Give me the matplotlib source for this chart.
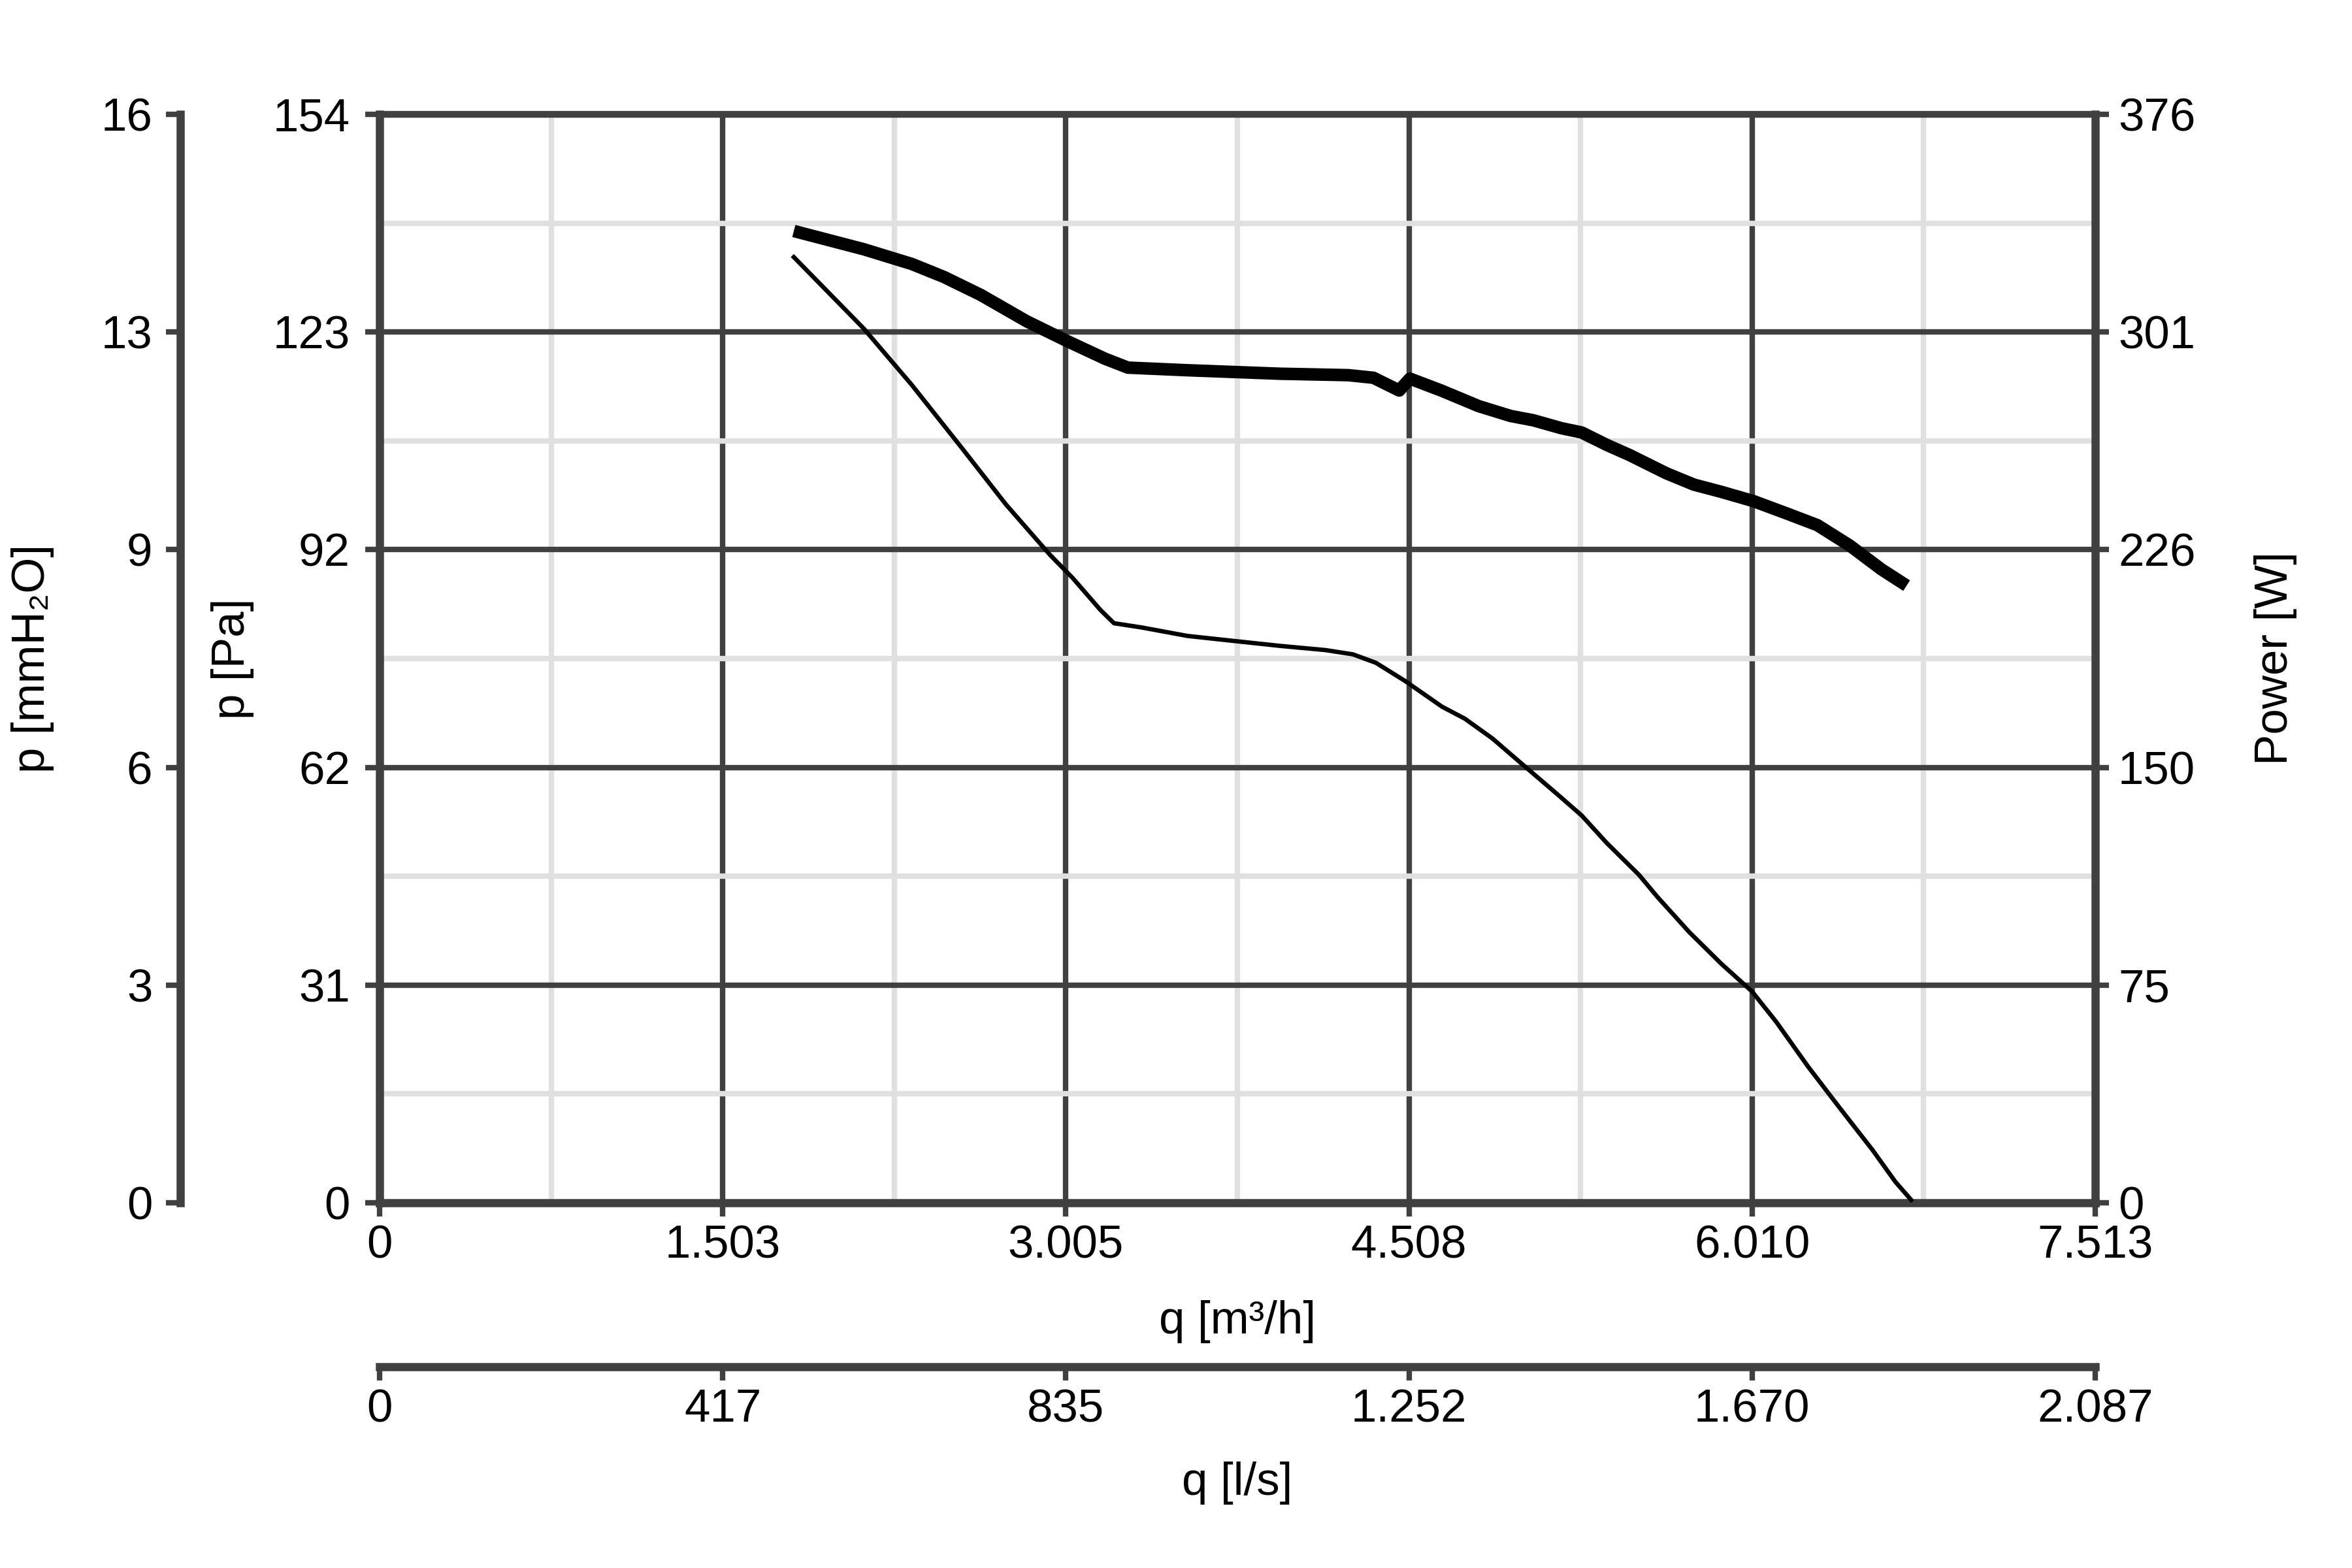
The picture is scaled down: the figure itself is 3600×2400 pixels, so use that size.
import numpy as np
import matplotlib
matplotlib.use("Agg")
import matplotlib.pyplot as plt

plt.rcParams['font.family'] = ['Liberation Sans', 'DejaVu Sans']

# axis ranges and tick labels
q_max = 7513          # m3/h
p_max = 154           # Pa
w_max = 376           # W
q_labels = ['0', '1.503', '3.005', '4.508', '6.010', '7.513']
ls_labels = ['0', '417', '835', '1.252', '1.670', '2.087']
pa_labels = ['0', '31', '62', '92', '123', '154']
mm_labels = ['0', '3', '6', '9', '13', '16']
w_labels = ['0', '75', '150', '226', '301', '376']

# pressure curve (thin)
q_p = [1814, 2120, 2331, 2552, 2743, 2935, 3035, 3156, 3216, 3337, 3538, 3739,
       3941, 4142, 4262, 4363, 4492, 4652, 4752, 4873, 5013, 5154, 5264, 5374,
       5515, 5595, 5735, 5876, 6010, 6116, 6257, 6397, 6537, 6637, 6707]
p_pa = [133.8, 123.7, 115.7, 106.7, 98.8, 91.7, 88.4, 83.9, 82.0, 81.4, 80.2, 79.5,
        78.8, 78.2, 77.6, 76.4, 73.8, 70.2, 68.5, 65.7, 61.8, 57.9, 54.8, 50.9,
        46.4, 43.3, 38.3, 33.8, 29.9, 25.6, 19.2, 13.3, 7.5, 3.0, 0.4]

# power curve (thick)
q_w = [1814, 2120, 2331, 2472, 2633, 2834, 3005, 3176, 3277, 3538, 3941, 4242,
       4352, 4465, 4512, 4652, 4813, 4953, 5053, 5174, 5264, 5374, 5474, 5635,
       5755, 5875, 6016, 6156, 6296, 6437, 6577, 6687]
p_w = [335.7, 329.4, 324.3, 319.8, 313.6, 304.5, 297.9, 291.6, 288.5, 287.6, 286.4, 285.9,
       285.0, 280.6, 284.7, 280.5, 275.2, 271.8, 270.3, 267.6, 266.1, 261.8, 258.3, 252.0,
       248.1, 245.6, 242.4, 238.3, 234.1, 227.1, 218.8, 213.2]

dark = '#404040'
light = '#e0e0e0'
fs = 17

fig = plt.figure(figsize=(12, 8), dpi=300)
ax = fig.add_axes([581/3600, 1 - 1841/2400, 2626/3600, 1666/2400])

ax.set_xlim(0, q_max)
ax.set_ylim(0, p_max)
xt = np.linspace(0, q_max, 6)
yt = np.linspace(0, p_max, 6)
ax.set_xticks(xt, q_labels)
ax.set_yticks(yt, pa_labels)
ax.set_xticks((xt[:-1] + xt[1:]) / 2, minor=True)
ax.set_yticks((yt[:-1] + yt[1:]) / 2, minor=True)
ax.grid(which='minor', color=light, lw=2, zorder=0)
ax.grid(which='major', color=dark, lw=2, zorder=1)
ax.set_axisbelow(True)
ax.tick_params(which='minor', length=0)
ax.tick_params(axis='y', length=5.3, width=2, pad=5.5, labelsize=fs, color=dark)
ax.tick_params(axis='x', length=5, width=2, pad=3, labelsize=fs, color=dark)
for s in ['left', 'bottom']:
    ax.spines[s].set_color(dark)
    ax.spines[s].set_linewidth(3)
ax.spines['top'].set_color(dark)
ax.spines['top'].set_linewidth(2.5)
ax.spines['right'].set_visible(False)

ax.plot(q_p, p_pa, color='black', lw=1.6, zorder=3)

ax.set_xlabel('q [m³/h]', fontsize=fs, va='center')
ax.xaxis.set_label_coords(0.5, -0.109)
ax.set_ylabel('p [Pa]', fontsize=fs, va='center')
ax.yaxis.set_label_coords(-0.0857, 0.5)

# power axis on the right
ax_w = ax.twinx()
ax_w.set_ylim(0, w_max)
ax_w.set_yticks(np.linspace(0, w_max, 6), w_labels)
ax_w.tick_params(axis='y', length=5, width=2, pad=3.4, labelsize=fs, color=dark)
for s in ['left', 'top', 'bottom']:
    ax_w.spines[s].set_visible(False)
ax_w.spines['right'].set_color(dark)
ax_w.spines['right'].set_linewidth(3)
ax_w.plot(q_w, p_w, color='black', lw=4.6, solid_capstyle='butt', zorder=3)
ax_w.set_ylabel('Power [W]', fontsize=fs, va='center')
ax_w.yaxis.set_label_coords(1.105, 0.5)

# mmH2O axis on the far left
ax_mm = ax.twinx()
mm_max = p_max / 9.80665
ax_mm.set_ylim(0, mm_max)
ax_mm.yaxis.set_ticks_position('left')
ax_mm.yaxis.set_label_position('left')
ax_mm.set_yticks(np.linspace(0, mm_max, 6), mm_labels)
ax_mm.spines['left'].set_position(('axes', -0.1161))
for s in ['right', 'top', 'bottom']:
    ax_mm.spines[s].set_visible(False)
ax_mm.spines['left'].set_color(dark)
ax_mm.spines['left'].set_linewidth(3)
ax_mm.tick_params(axis='y', length=5.3, width=2, pad=5, labelsize=fs, color=dark)
ax_mm.set_ylabel('p [mmH₂O]', fontsize=fs, va='center')
ax_mm.yaxis.set_label_coords(-0.2022, 0.5)

# l/s axis below
ax_ls = ax.twiny()
ls_max = q_max / 3.6
ax_ls.set_xlim(0, ls_max)
ax_ls.xaxis.set_ticks_position('bottom')
ax_ls.xaxis.set_label_position('bottom')
ax_ls.set_xticks(np.linspace(0, ls_max, 6), ls_labels)
ax_ls.spines['bottom'].set_position(('axes', -0.1507))
for s in ['left', 'right', 'top']:
    ax_ls.spines[s].set_visible(False)
ax_ls.spines['bottom'].set_color(dark)
ax_ls.spines['bottom'].set_linewidth(3)
ax_ls.tick_params(axis='x', length=5, width=2, pad=3, labelsize=fs, color=dark)
ax_ls.set_xlabel('q [l/s]', fontsize=fs, va='center')
ax_ls.xaxis.set_label_coords(0.5, -0.2575)

fig.savefig('out.png', dpi=300)
